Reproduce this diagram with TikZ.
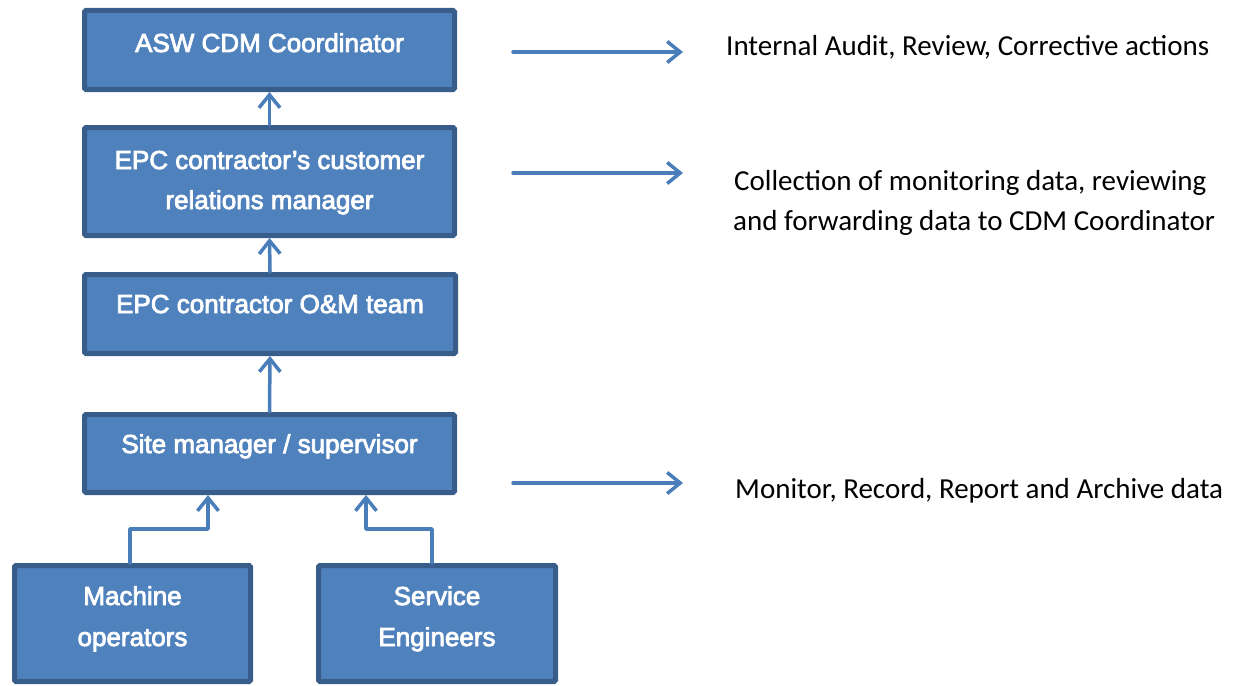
\documentclass[tikz,border=0pt]{standalone}
\usepackage{fontspec}
\setmainfont{Liberation Sans}
\newfontfamily\boxfont{Liberation Sans}[FakeBold=3]
\newfontfamily\rtfont{Carlito}
\usetikzlibrary{arrows.meta}
\definecolor{boxfill}{HTML}{4F81BD}
\definecolor{boxline}{HTML}{385D8A}
\definecolor{conncol}{HTML}{4A7EBB}
\tikzset{
  orgbox/.style={draw=boxline, fill=boxfill, line width=5pt, rounded corners=1.5pt,
    inner sep=0pt, outer sep=2.5pt},
  boxtext/.style={anchor=base, inner sep=0pt, text=white, font=\boxfont\fontsize{26}{30}\selectfont},
  rttext/.style={anchor=base west, inner sep=0pt, text=black, font=\rtfont\fontsize{29}{35}\selectfont},
  arr/.style={draw=conncol, line width=3.5pt, line cap=round, line join=round,
    -{Straight Barb[length=13pt, width=21pt, line width=3.5pt]}},
}
\begin{document}
\begin{tikzpicture}[x=1pt, y=-1pt]
\useasboundingbox (0,0) rectangle (1244,685);
% boxes
\node[orgbox, minimum width=370pt, minimum height=79pt] (b1) at (269.5,50) {};
\node[orgbox, minimum width=370pt, minimum height=108pt] (b2) at (269.5,181.5) {};
\node[orgbox, minimum width=371pt, minimum height=79pt] (b3) at (270,314) {};
\node[orgbox, minimum width=370pt, minimum height=78pt] (b4) at (269.5,453.5) {};
\node[orgbox, minimum width=236pt, minimum height=116pt] (mach) at (132.5,623.5) {};
\node[orgbox, minimum width=237pt, minimum height=116pt] (serv) at (437,623.5) {};
% box texts
\node[boxtext] (t1) at (269.5,52) {ASW CDM Coordinator};
\node[boxtext] (t2a) at (269.5,169) {EPC contractor’s customer};
\node[boxtext] (t2b) at (269.5,209) {relations manager};
\node[boxtext] (t3) at (270,313) {EPC contractor O\&M team};
\node[boxtext] (t4) at (269.5,453) {Site manager / supervisor};
\node[boxtext] (t5a) at (132.5,605) {Machine};
\node[boxtext] (t5b) at (132.5,646) {operators};
\node[boxtext] (t6a) at (437,605) {Service};
\node[boxtext] (t6b) at (437,646) {Engineers};
% vertical connectors
\draw[arr] (b2.north) -- (b1.south);
\draw[arr] (b3.north) -- (b2.south);
\draw[arr] (b4.north) -- (b3.south);
\coordinate (mb) at (208,529);
\coordinate (sb) at (366,529);
\draw[arr] ([xshift=-2.5pt]mach.north) |- (mb) -- (mb |- b4.south);
\draw[arr] ([xshift=-5pt]serv.north) |- (sb) -- (sb |- b4.south);
% right arrows
\coordinate (a1s) at (513,52);  \coordinate (a1e) at (683,52);
\coordinate (a2s) at (513,173); \coordinate (a2e) at (683,173);
\coordinate (a3s) at (513,483); \coordinate (a3e) at (683,483);
\draw[arr] (a1s) -- (a1e);
\draw[arr] (a2s) -- (a2e);
\draw[arr] (a3s) -- (a3e);
% right texts
\node[rttext] (r1) at (726,56) {Internal Audit, Review, Corrective actions};
\node[rttext] (r2a) at (734,190) {Collection of monitoring data, reviewing};
\node[rttext] (r2b) at (733,230) {and forwarding data to CDM Coordinator};
\node[rttext] (r3) at (735,498) {Monitor, Record, Report and Archive data};
\end{tikzpicture}
\end{document}
